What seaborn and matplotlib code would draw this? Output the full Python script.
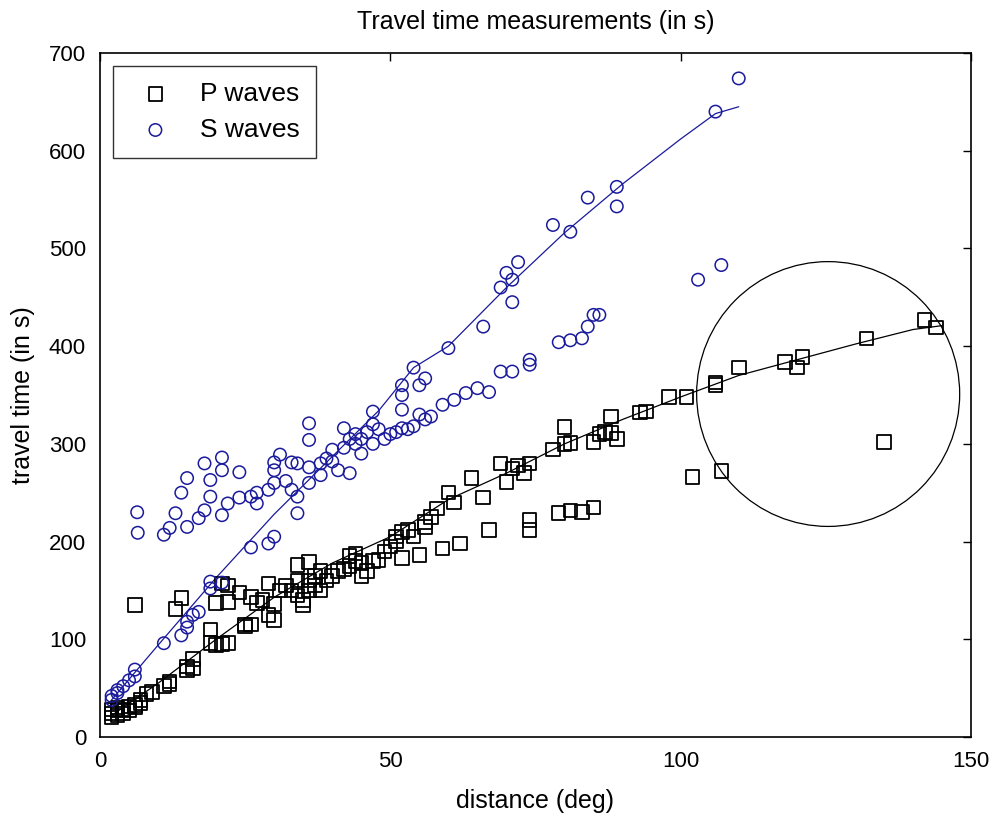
import numpy as np
import pandas as pd
import seaborn as sns
import matplotlib
matplotlib.use("Agg")
import matplotlib.pyplot as plt
from matplotlib.patches import Ellipse

# ---- data (distance in deg, travel time in s) ----
p_dist = [2, 2, 2, 3, 3, 3, 4, 4, 5, 5, 6, 6, 7, 7, 8, 9, 11, 12, 12, 15, 16, 15, 16, 6,
          13, 14, 19, 19, 20, 22, 21, 20, 21, 22, 22, 24, 25, 26, 27, 29, 29, 25, 26, 30, 28, 30,
          31, 32, 33, 34, 34, 35, 35, 36, 36, 37, 37, 38, 38, 39, 40, 41, 42, 43, 43, 44, 44, 45,
          45, 46, 47, 48, 49, 50, 51, 51, 52, 52, 53, 54, 55, 56, 56, 57, 58, 59, 60, 61, 62, 64,
          66, 67, 69, 70, 71, 72, 73, 74, 74, 74, 78, 79, 80, 80, 81, 81, 83, 85, 85, 86, 87, 88,
          88, 89, 93, 94, 98, 101, 102, 106, 106, 107, 110, 118, 120, 121, 132, 135, 142, 144,
          34, 36]
p_time = [20, 24, 28, 22, 27, 30, 24, 28, 27, 31, 30, 33, 35, 38, 44, 46, 52, 54, 57, 68, 70, 72, 80, 135,
          131, 142, 110, 96, 94, 96, 95, 137, 157, 155, 138, 148, 113, 143, 137, 157, 125, 115, 115, 120, 140, 136,
          150, 155, 150, 145, 160, 140, 135, 150, 160, 155, 165, 150, 170, 160, 165, 170, 172, 185, 175, 180, 188, 178,
          165, 170, 180, 181, 190, 195, 200, 205, 183, 210, 212, 205, 186, 215, 220, 225, 234, 193, 250, 240, 198, 265,
          245, 212, 280, 261, 275, 278, 270, 280, 212, 222, 294, 229, 300, 317, 232, 301, 230, 235, 302, 310, 312, 328,
          311, 305, 332, 333, 348, 348, 266, 360, 363, 272, 378, 384, 378, 389, 408, 302, 427, 419,
          176, 179]

s_dist = [2, 2, 3, 3, 4, 5, 6, 6, 11, 14, 15, 15, 16, 17, 19, 19, 21, 26, 29, 30, 34, 34, 33,
          6.4, 6.5, 11, 12, 13, 14, 15, 15, 17, 18, 18, 19, 19, 21, 21, 21, 22, 24, 24, 26, 27, 29,
          30, 30, 30, 31, 33, 34, 36, 36, 38, 40, 41, 36, 36, 39, 40, 42, 43, 43, 44, 44, 45, 45,
          46, 47, 47, 48, 49, 50, 51, 52, 53, 54, 55, 56, 57, 59, 61, 63, 65, 67, 69, 71, 74, 74,
          79, 81, 83, 84, 85, 86, 42, 47, 52, 52, 52, 54, 55, 56, 60, 66, 69, 70, 71, 71, 72, 78,
          81, 84, 89, 89, 106, 110, 103, 107, 38, 32, 27]
s_time = [38, 42, 45, 48, 52, 58, 62, 69, 96, 104, 112, 118, 125, 128, 159, 152, 158, 194, 198, 205, 229, 246, 253,
          230, 209, 207, 214, 229, 250, 265, 215, 224, 232, 280, 263, 246, 286, 273, 227, 239, 245, 271, 246, 239, 253,
          260, 273, 281, 289, 281, 280, 276, 260, 280, 294, 273, 321, 304, 285, 282, 296, 270, 305, 300, 310, 290, 305,
          312, 300, 320, 315, 305, 310, 312, 316, 315, 318, 330, 325, 328, 340, 345, 352, 357, 353, 374, 374, 386, 381,
          404, 406, 408, 420, 432, 432, 316, 333, 335, 350, 360, 378, 360, 367, 398, 420, 460, 475, 468, 445, 486, 524,
          517, 552, 543, 563, 640, 674, 468, 483, 268, 262, 250]

# model curves
p_model_dist = [2, 10, 20, 30, 40, 50, 60, 70, 80, 90, 100, 110, 120, 130, 140, 145]
p_model_time = [22, 55, 100, 143, 178, 205, 243, 270, 300, 325, 348, 370, 386, 402, 417, 421]
s_model_dist = [2, 10, 20, 30, 40, 48, 54, 60, 70, 80, 90, 100, 106, 110]
s_model_time = [38, 94, 163, 228, 287, 334, 378, 400, 460, 516, 566, 612, 638, 645]

# highlighted region
circle_center = (125.4, 351)
circle_width = 45.3
circle_height = 271

title = "Travel time measurements (in s)"
xlabel = "distance (deg)"
ylabel = "travel time (in s)"
x_ticks = [0, 50, 100, 150]
y_ticks = [0, 100, 200, 300, 400, 500, 600, 700]

sns.set_theme(style="white")
plt.rcParams["font.family"] = ["Liberation Sans", "DejaVu Sans"]
plt.rcParams["text.color"] = "black"
plt.rcParams["axes.labelcolor"] = "black"

fig = plt.figure(figsize=(9.93, 8.16), dpi=100)
ax = fig.add_axes([100 / 993, 79 / 816, 871 / 993, 684 / 816])

blue = "#1a1a9c"

sns.lineplot(x=p_model_dist, y=p_model_time, ax=ax, color="black", linewidth=0.9,
             sort=False, estimator=None, legend=False)
sns.lineplot(x=s_model_dist, y=s_model_time, ax=ax, color=blue, linewidth=0.9,
             sort=False, estimator=None, legend=False)

sns.scatterplot(x=p_dist, y=p_time, ax=ax, marker="s", s=95, facecolor="none",
                edgecolor="black", linewidth=1.3, label="P waves", zorder=3)
sns.scatterplot(x=s_dist, y=s_time, ax=ax, marker="o", s=80, facecolor="none",
                edgecolor=blue, linewidth=1.1, label="S waves", zorder=3)

ax.add_patch(Ellipse(circle_center, circle_width, circle_height, fill=False,
                     edgecolor="black", linewidth=0.9, zorder=4))

ax.set_xlim(0, 150)
ax.set_ylim(0, 700)
ax.set_xticks(x_ticks)
ax.set_yticks(y_ticks)
ax.tick_params(direction="in", length=6, width=1, top=True, right=True,
               labelsize=16, colors="black")
ax.tick_params(axis="x", pad=10)
ax.tick_params(axis="y", pad=10)
for sp in ax.spines.values():
    sp.set_color("black")
    sp.set_linewidth(1.2)
    sp.set_visible(True)

ax.set_title(title, fontsize=18, pad=17, color="black")
ax.set_xlabel(xlabel, fontsize=18, labelpad=12, color="black")
ax.set_ylabel(ylabel, fontsize=18, labelpad=10, color="black")

leg = ax.legend(loc="upper left", fontsize=19, frameon=True, fancybox=False,
                edgecolor="black", borderpad=0.6, labelspacing=0.45,
                handletextpad=0.7, handlelength=2.0, borderaxespad=0.5,
                markerscale=1.0)
leg.get_frame().set_linewidth(1.0)
for t in leg.get_texts():
    t.set_color("black")

fig.savefig("out.png", dpi=100, facecolor="white")
